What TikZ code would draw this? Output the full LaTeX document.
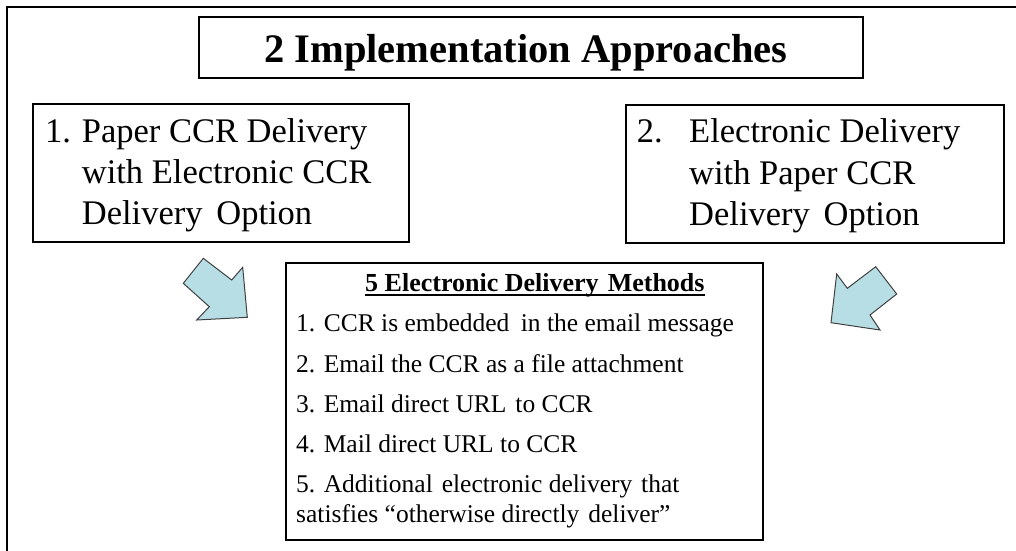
\documentclass[tikz,border=0pt]{standalone}
\usepackage{fontspec}
\setmainfont{Liberation Serif}
\definecolor{arrowfill}{RGB}{183,222,228}
\begin{document}
\begin{tikzpicture}[x=1pt,y=-1pt,
  frame/.style={draw=black,line width=2.2pt},
  box/.style={draw=black,line width=1.8pt,inner sep=0pt,anchor=north west},
  bigtext/.style={anchor=base west,inner sep=0pt,font=\fontsize{34.5}{40}\selectfont},
  itemtext/.style={anchor=base west,inner sep=0pt,font=\fontsize{25.5}{30}\selectfont},
  blockarrow/.style={fill=arrowfill,draw=black!75,line width=1pt,line join=miter}]
  \useasboundingbox (0,0) rectangle (1016,550);

  % outer frame, open to the right and bottom
  \draw[frame] (7,551) -- (7,7) -- (1017,7);

  % heading box
  \node[box,minimum width=664pt,minimum height=61pt] (titlebox) at (198.3,16.3) {};
  \node[anchor=base west,inner sep=0pt,font=\fontsize{40.5}{46}\selectfont\bfseries] (title) at (264,62) {2 Implementation Approaches};

  % approach 1
  \node[box,minimum width=376pt,minimum height=137.7pt] (paperbox) at (31.7,103) {};
  \node[bigtext] (pnum) at (45,142) {1.};
  \node[bigtext] (pl1) at (81.7,142) {Paper CCR Delivery};
  \node[bigtext] (pl2) at (81.7,183.5) {with Electronic CCR};
  \node[bigtext] (pl3) at (81.7,224) {Delivery\hspace{0.4em}Option};

  % approach 2
  \node[box,minimum width=377.7pt,minimum height=137.7pt] (elecbox) at (625,104) {};
  \node[bigtext] (enum) at (636.7,142) {2.};
  \node[bigtext] (el1) at (689,142) {Electronic Delivery};
  \node[bigtext] (el2) at (689,184.5) {with Paper CCR};
  \node[bigtext] (el3) at (689,225) {Delivery\hspace{0.4em}Option};

  % delivery methods
  \node[box,line width=2.2pt,minimum width=477pt,minimum height=277.3pt] (methods) at (285,261.7) {};
  \node[anchor=base west,inner sep=0pt,font=\fontsize{26}{30}\selectfont\bfseries] (mhead) at (365,291) {5 Electronic Delivery\hspace{0.35em}Methods};
  \draw[line width=1.2pt] ([yshift=-4pt]mhead.base west) -- ([yshift=-4pt]mhead.base east);
  \node[itemtext] (m1) at (296,331) {1. CCR is embedded\hspace{0.45em}in the email message};
  \node[itemtext] (m2) at (296,372) {2. Email the CCR as a file attachment};
  \node[itemtext] (m3) at (296,412) {3. Email direct URL\hspace{0.35em}to CCR};
  \node[itemtext] (m4) at (296,452) {4. Mail direct URL to CCR};
  \node[itemtext] (m5) at (296,492) {5. Additional\hspace{0.35em}electronic delivery\hspace{0.35em}that};
  \node[itemtext] (m6) at (296,522) {satisfies ``otherwise directly\hspace{0.35em}deliver''};

  % block arrows pointing into the methods box
  \draw[blockarrow] (183.3,283.3) -- (203.3,258.3) -- (231.7,280) -- (242.7,267.3)
    -- (247.3,317.3) -- (196.7,320) -- (209.3,306.7) -- cycle;
  \draw[blockarrow] (831,322.7) -- (836.7,274) -- (847.3,288.3) -- (875.7,266.7)
    -- (896.7,294) -- (870,315) -- (880,330) -- cycle;
\end{tikzpicture}
\end{document}
